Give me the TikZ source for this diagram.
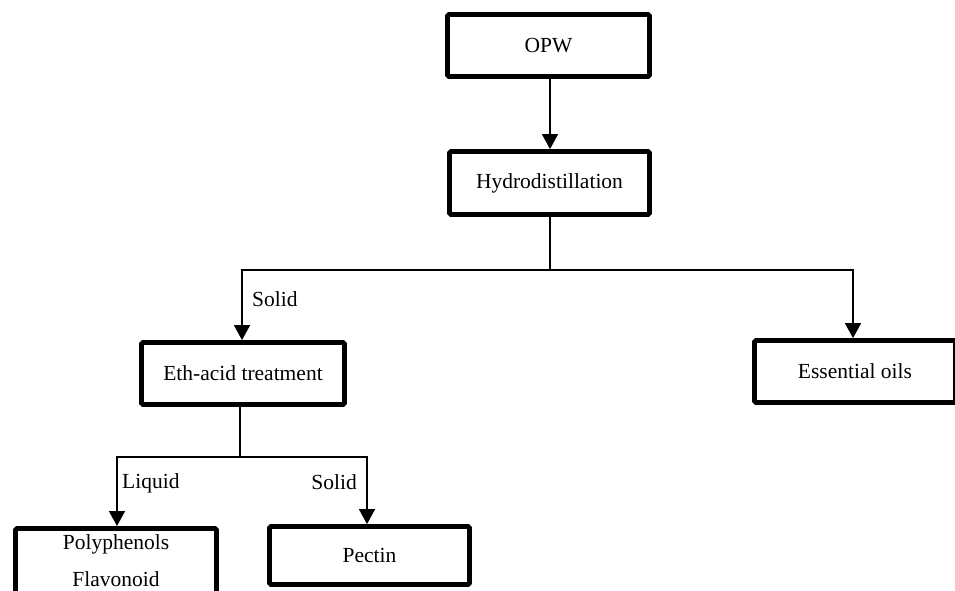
\documentclass[tikz,border=0pt]{standalone}
\usepackage{fontspec}
\setmainfont{Liberation Serif}
\usetikzlibrary{arrows.meta}
\begin{document}
\begin{tikzpicture}[x=1pt,y=-1pt,
  stage/.style={draw, line width=4.8pt, rounded corners=1.5pt, fill=white,
    inner sep=0pt, align=center, font=\fontsize{21.5}{37}\selectfont},
  link/.style={line width=1.5pt},
  flow/.style={link, -{Triangle[width=16pt,length=15pt]}},
  tag/.style={font=\fontsize{21.5}{24}\selectfont, inner sep=0pt}]
\useasboundingbox (0,0) rectangle (955,590);
% process boxes
\node[stage, minimum width=202pt, minimum height=62pt] (opw) at (548.5,45.5) {OPW};
\node[stage, minimum width=200pt, minimum height=63pt] (hyd) at (549.5,183) {Hydrodistillation};
\node[stage, minimum width=203pt, minimum height=62pt] (eth) at (243,373.5) {Eth-acid treatment};
\node[stage, minimum width=201pt, minimum height=62pt] (ess) at (855,371.5) {Essential oils};
% the lowest box runs past the bottom edge of the page
\node[stage, minimum width=201pt, minimum height=72pt, anchor=north] (pol) at (116,526) {};
\node[align=center, inner sep=0pt, font=\fontsize{21.5}{37}\selectfont] (poltext) at (116,560.5) {Polyphenols\\Flavonoid};
\node[stage, minimum width=200pt, minimum height=58pt] (pec) at (369.5,555.5) {Pectin};
% junction and corner points
\coordinate (j1) at (550,270);
\coordinate (c1) at (242,270);
\coordinate (c2) at (853,270);
\coordinate (j2) at (240,457);
\coordinate (c3) at (117,457);
\coordinate (c4) at (367,457);
% connectors
\draw[flow] (opw.south -| j1) -- (hyd.north -| j1);
\draw[link] (hyd.south -| j1) -- (j1);
\draw[flow] (j1) -- (c1) -- (c1 |- eth.north);
\draw[flow] (j1) -- (c2) -- (c2 |- ess.north);
\draw[link] (eth.south -| j2) -- (j2);
\draw[flow] (j2) -- (c3) -- (c3 |- pol.north);
\draw[flow] (j2) -- (c4) -- (c4 |- pec.north);
% branch labels
\node[tag, anchor=west] (ls1) at (252,299) {Solid};
\node[tag, anchor=west] (ll) at (122,483) {Liquid};
\node[tag, anchor=east] (ls2) at (357,482) {Solid};
\end{tikzpicture}
\end{document}
